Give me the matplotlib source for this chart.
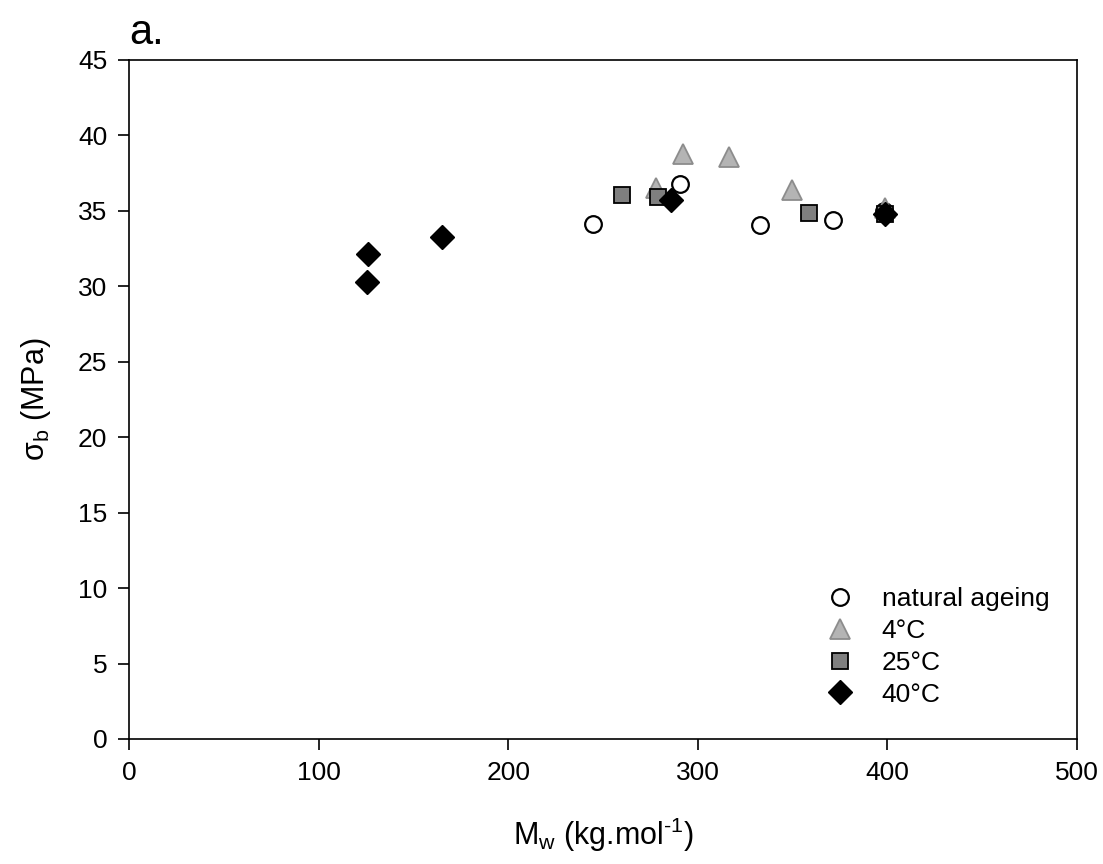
import matplotlib.pyplot as plt

plt.rcParams['font.family'] = ['Liberation Sans', 'DejaVu Sans']
plt.rcParams['mathtext.fontset'] = 'custom'
plt.rcParams['mathtext.rm'] = 'Liberation Sans'

# Data: Mw (kg/mol) and sigma_b (MPa)
natural_mw = [244.7, 290.7, 333.0, 371.4, 398.5]
natural_sb = [34.1, 36.75, 34.05, 34.4, 35.0]

t4_mw = [277.8, 292.2, 316.7, 349.6, 399.0]
t4_sb = [36.5, 38.8, 38.6, 36.4, 35.2]

t25_mw = [260.2, 278.9, 358.9, 399.0]
t25_sb = [36.05, 35.9, 34.85, 34.8]

t40_mw = [125.2, 126.1, 164.8, 285.9, 399.0]
t40_sb = [30.3, 32.15, 33.3, 35.7, 34.8]

fig = plt.figure(figsize=(11.03, 8.64), dpi=100)
ax = fig.add_axes([0.1174, 0.1447, 0.8586, 0.7859])

ax.plot(natural_mw, natural_sb, 'o', ms=12, mfc='white', mec='black', mew=1.6,
        label='natural ageing')
ax.plot(t4_mw, t4_sb, '^', ms=14, mfc='#b4b4b4', mec='#8c8c8c', mew=1.3, label='4°C')
ax.plot(t25_mw, t25_sb, 's', ms=11, mfc='#7f7f7f', mec='black', mew=1.3, label='25°C')
ax.plot(t40_mw, t40_sb, 'D', ms=12, mfc='black', mec='black', mew=1.0, label='40°C')

ax.set_xlim(0, 500)
ax.set_ylim(0, 45)
ax.set_xticks(range(0, 501, 100))
ax.set_yticks(range(0, 46, 5))
ax.tick_params(direction='out', length=8, width=1.2, labelsize=19, pad=8,
               top=False, right=False)
for s in ax.spines.values():
    s.set_linewidth(1.2)

ax.set_xlabel(r'M$_\mathregular{w}$ (kg.mol$^\text{-1}$)', fontsize=22, labelpad=22)
ax.set_ylabel(r'σ$_\mathregular{b}$ (MPa)', fontsize=22, labelpad=18)
ax.text(0.0, 1.01, 'a.', transform=ax.transAxes, fontsize=30, ha='left', va='bottom')

ax.legend(loc='lower right', frameon=False, fontsize=19, handletextpad=0.6,
          labelspacing=0.3, borderaxespad=0, bbox_to_anchor=(0.9826, 0.032))

fig.savefig('out.png', dpi=100)
